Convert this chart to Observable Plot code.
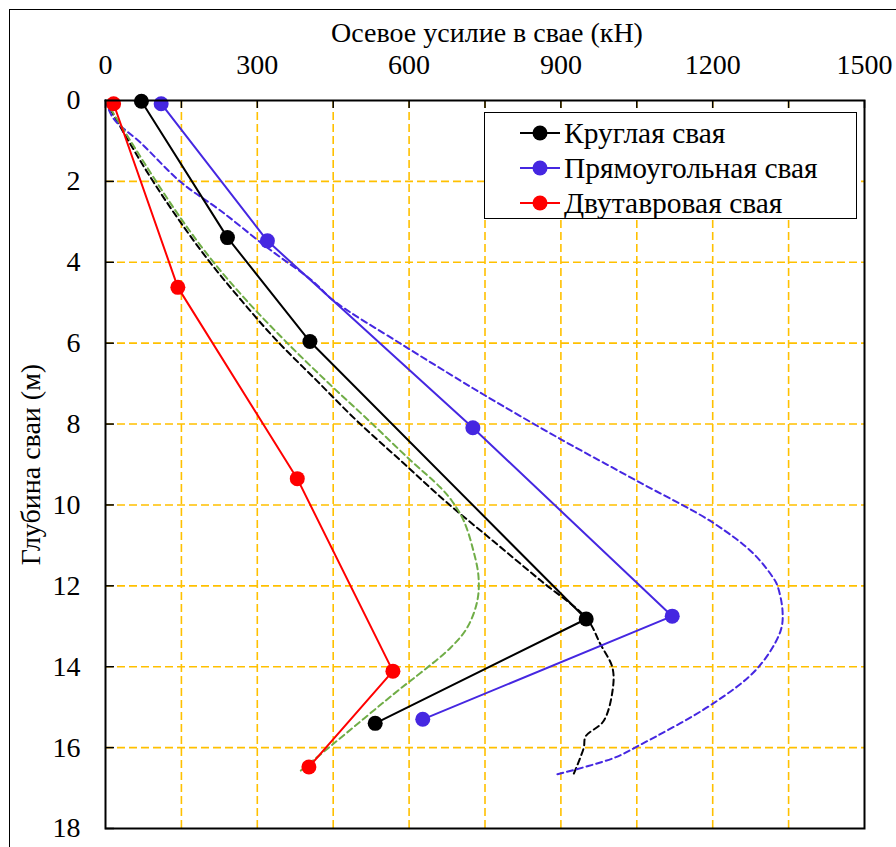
<!DOCTYPE html>
<html>
<head>
<meta charset="utf-8">
<script src="https://cdn.jsdelivr.net/npm/d3@7"></script>
<script src="https://cdn.jsdelivr.net/npm/@observablehq/plot@0.6"></script>
<style>
  body { margin: 0; background: #fff; }
  #wrap { position: relative; width: 896px; height: 847px; overflow: hidden;
          font-family: "Liberation Serif", "DejaVu Serif", "Noto Serif", serif; }
  #outer { position: absolute; left: 9px; top: 9px; width: 1000px; height: 1000px;
           border-left: 1.5px solid #000; border-top: 1.5px solid #000; pointer-events: none; }
  #chart { position: absolute; left: 0; top: 0; }
  #legend { position: absolute; left: 484px; top: 112px; width: 371px; height: 105px;
            border: 1.5px solid #000; background: #fff; }
  .row { position: absolute; left: 35px; height: 36px; display: flex; align-items: center;
         font-size: 29.5px; color: #000; white-space: nowrap; }
  .row svg { margin-right: 4px; }
</style>
</head>
<body>
<div id="wrap">
  <div id="outer"></div>
  <div id="chart"></div>
  <div id="legend"></div>
</div>
<script>
// Axis ticks and titles
const xTickLabels = [0, 300, 600, 900, 1200, 1500];
const xMinorTicks = [0, 150, 300, 450, 600, 750, 900, 1050, 1200, 1350, 1500];
const yTickLabels = [0, 2, 4, 6, 8, 10, 12, 14, 16, 18];
const xTitle = "Осевое усилие в свае (кН)";
const yTitle = "Глубина сваи (м)";

// Series names and colours
const seriesNames = ["Круглая свая", "Прямоугольная свая", "Двутавровая свая"];
const seriesColors = ["#000000", "#4527E1", "#FF0000"];

// Measured axial force (kN) vs depth (m)
const roundForce = [71, 241, 404, 950, 533];
const roundDepth = [0.02, 3.39, 5.96, 12.82, 15.4];
const rectForce = [110, 320, 726, 1120, 627];
const rectDepth = [0.08, 3.47, 8.09, 12.75, 15.3];
const ibeamForce = [16, 143, 379, 568, 402];
const ibeamDepth = [0.08, 4.62, 9.35, 14.11, 16.48];

// Calculated distributions (dashed curves)
const roundCurveForce = [0, 45, 93, 146, 204, 269, 338, 417, 496, 583, 670, 765, 860, 951, 978, 1002, 1002, 984, 949, 945, 925];
const roundCurveDepth = [0, 0.99, 1.98, 2.97, 3.96, 4.95, 5.93, 6.92, 7.91, 8.9, 9.89, 10.88, 11.87, 12.81, 13.44, 14.03, 14.6, 15.35, 15.72, 16.01, 16.66];
const rectCurveForce = [0, 16, 69, 150, 227, 320, 409, 451, 583, 702, 751, 899, 1051, 1202, 1281, 1320, 1328, 1338, 1334, 1289, 1202, 1051, 1004, 893];
const rectCurveDepth = [0, 0.45, 1.04, 2.03, 2.72, 3.64, 4.46, 4.95, 6.01, 6.93, 7.3, 8.37, 9.41, 10.45, 11.21, 11.81, 12.0, 12.62, 13.12, 14.03, 14.9, 15.97, 16.26, 16.66];
const ibeamCurveForce = [0, 49, 99, 152, 211, 279, 354, 435, 520, 603, 662, 684, 708, 727, 737, 735, 715, 682, 623, 583, 451, 381];
const ibeamCurveDepth = [0, 0.99, 1.98, 2.97, 3.96, 4.95, 5.93, 6.92, 7.91, 8.9, 9.57, 9.89, 10.39, 11.13, 11.75, 12.36, 13.03, 13.53, 14.15, 14.54, 15.9, 16.62];
const curveColors = ["#000000", "#4527E1", "#70AD47"];

const toRows = (xs, ys) => xs.map((x, i) => ({force: x, depth: ys[i]}));
const measured = [toRows(roundForce, roundDepth), toRows(rectForce, rectDepth), toRows(ibeamForce, ibeamDepth)];
const curves = [toRows(roundCurveForce, roundCurveDepth), toRows(rectCurveForce, rectCurveDepth), toRows(ibeamCurveForce, ibeamCurveDepth)];

const gridStyle = {stroke: "#FFC000", strokeOpacity: 1, strokeWidth: 1.6, strokeDasharray: "8,4"};
const plotWidth = 896, plotHeight = 847;
const margin = {top: 100, right: 32, bottom: 19, left: 105};
const innerW = plotWidth - margin.left - margin.right;
const innerH = plotHeight - margin.top - margin.bottom;

const marks = [
  Plot.gridX(xMinorTicks.slice(1, -1), gridStyle),
  Plot.gridY(yTickLabels.slice(1, -1), gridStyle),
  // inward tick marks along the top and left edges
  Plot.tickX(xMinorTicks, {x: d => d, stroke: "#000", strokeWidth: 1.5, insetBottom: innerH - 8}),
  Plot.tickY(yTickLabels, {y: d => d, stroke: "#000", strokeWidth: 1.5, insetRight: innerW - 9}),
  // tick labels
  Plot.axisX(xTickLabels, {anchor: "top", tickSize: 0, tickPadding: 27, label: null, tickFormat: d3.format("d")}),
  Plot.axisY(yTickLabels, {anchor: "left", tickSize: 0, tickPadding: 25, label: null, tickFormat: d3.format("d")}),
  // axis titles
  Plot.text([xTitle], {frameAnchor: "top", lineAnchor: "top", textAnchor: "middle", dy: -78, dx: 2, fontSize: 28}),
  Plot.text([yTitle], {frameAnchor: "left", textAnchor: "middle", lineAnchor: "middle", rotate: -90, dx: -74, dy: 0, fontSize: 28})
];

curves.forEach((rows, i) => {
  marks.push(Plot.line(rows, {x: "force", y: "depth", stroke: curveColors[i], strokeWidth: 2,
    strokeDasharray: "6,4", curve: "catmull-rom"}));
});
measured.forEach((rows, i) => {
  marks.push(Plot.line(rows, {x: "force", y: "depth", stroke: seriesColors[i], strokeWidth: 2}));
});
measured.forEach((rows, i) => {
  marks.push(Plot.dot(rows, {x: "force", y: "depth", r: 7.5, fill: seriesColors[i], stroke: "none"}));
});
marks.push(Plot.frame({stroke: "#000", strokeWidth: 2}));

const chart = Plot.plot({
  width: plotWidth,
  height: plotHeight,
  marginLeft: margin.left,
  marginTop: margin.top,
  marginRight: margin.right,
  marginBottom: margin.bottom,
  style: {fontFamily: "'Liberation Serif', 'DejaVu Serif', 'Noto Serif', serif", fontSize: "28px", background: "transparent", color: "#000", overflow: "visible"},
  x: {domain: [0, 1500]},
  y: {domain: [0, 18], reverse: true},
  marks
});
document.getElementById("chart").appendChild(chart);

// Legend
const legend = document.getElementById("legend");
seriesNames.forEach((name, i) => {
  const row = document.createElement("div");
  row.className = "row";
  row.style.top = (2 + i * 35) + "px";
  row.innerHTML = `<svg width="40" height="18"><line x1="0" x2="40" y1="9" y2="9" stroke="${seriesColors[i]}" stroke-width="2"/><circle cx="20" cy="9" r="7.5" fill="${seriesColors[i]}"/></svg><span>${name}</span>`;
  legend.appendChild(row);
});
</script>
</body>
</html>
